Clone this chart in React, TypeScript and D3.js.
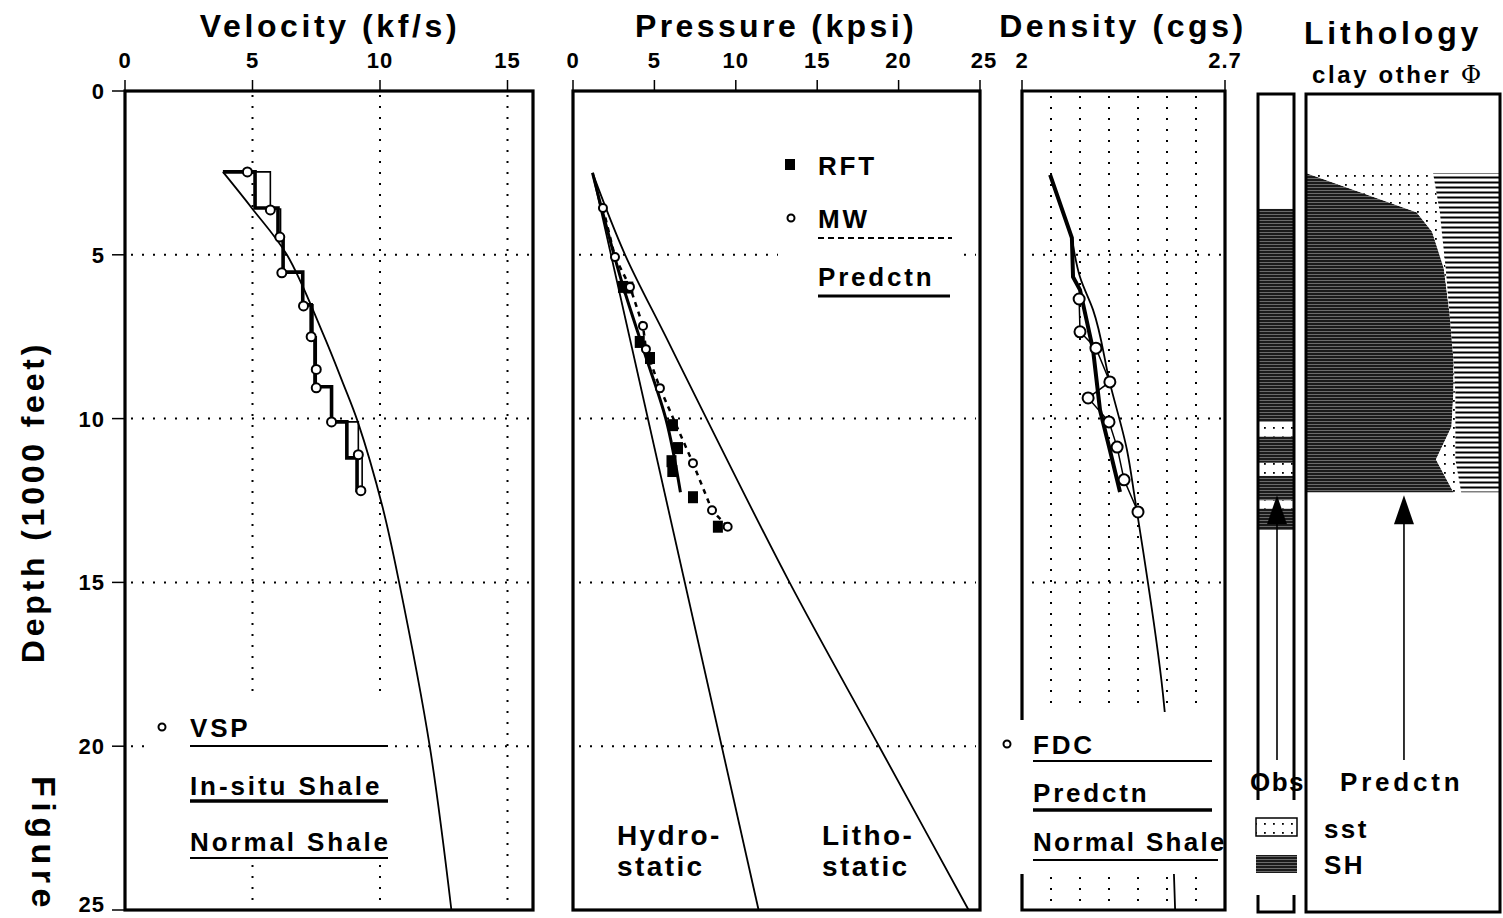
import React, { useEffect, useRef } from "react";
import * as d3 from "d3";

// axes
const depthTicks = [0, 5, 10, 15, 20, 25];
const velTicks = [0, 5, 10, 15];
const presTicks = [0, 5, 10, 15, 20, 25];
const denTicks = [2, 2.7];
const denGrid = [2.1, 2.2, 2.3, 2.4, 2.5, 2.6];

// velocity (kf/s) vs depth (1000 ft)
const normVelDepth = [2.47, 3.6, 5, 7.4, 8.9, 10.1, 12.7, 15, 20, 25];
const normVel = [3.84, 5.0, 6.35, 7.76, 8.54, 9.13, 10.1, 10.75, 11.95, 12.8];
const insituTop = [2.47, 3.57, 4.45, 5.53, 6.53, 7.6, 9.03, 10.1, 11.2];
const insituBase = [3.57, 4.45, 5.53, 6.53, 7.6, 9.03, 10.1, 11.2, 12.25];
const insituVel = [5.1, 6.0, 6.2, 6.97, 7.3, 7.45, 8.1, 8.7, 9.1];
const vspTop = [2.47, 3.6, 4.45, 5.53, 6.53, 7.5, 9.03, 10.1, 11.2];
const vspBase = [3.6, 4.45, 5.53, 6.53, 7.5, 9.03, 10.1, 11.2, 12.25];
const vspVel = [5.7, 6.1, 6.2, 6.97, 7.37, 7.5, 8.1, 9.15, 9.3];
const vspPtDepth = [2.47, 3.63, 4.46, 5.55, 6.56, 7.5, 8.5, 9.06, 10.1, 11.1, 12.2];
const vspPtVel = [4.8, 5.7, 6.07, 6.15, 7.0, 7.3, 7.5, 7.5, 8.1, 9.15, 9.25];

// pressure (kpsi)
const hydroDepth = [2.5, 25];
const hydroP = [1.2, 11.4];
const lithoDepth = [2.5, 5, 7.5, 10, 15, 20, 25];
const lithoP = [1.2, 3.2, 5.7, 8.2, 13.3, 18.8, 24.3];
const predPDepth = [2.5, 6, 8, 10, 12.25];
const predP = [1.2, 3.1, 4.4, 5.7, 6.6];
const mwDepth = [3.57, 5.07, 5.98, 7.17, 7.88, 9.07, 11.36, 12.8, 13.3];
const mwP = [1.84, 2.58, 3.5, 4.3, 4.48, 5.34, 7.37, 8.54, 9.5];
const rftDepth = [5.98, 6.0, 7.66, 8.15, 10.2, 10.9, 11.3, 11.6, 12.4, 13.3];
const rftP = [3.07, 3.4, 4.1, 4.73, 6.14, 6.45, 6.05, 6.1, 7.37, 8.9];

// density (g/cc)
const predDenDepth = [2.56, 4.48, 5.68, 6.07, 7.9, 9.74, 10.96, 12.24];
const predDen = [2.097, 2.172, 2.176, 2.2, 2.245, 2.269, 2.303, 2.338];
const normDenDepth = [4.48, 5.68, 6.68, 8.91, 10.96, 12.48, 14.0, 18.4, 25];
const normDen = [2.172, 2.2, 2.245, 2.303, 2.362, 2.39, 2.417, 2.486, 2.528];
const fdcDepth = [6.35, 7.35, 7.85, 8.88, 9.37, 10.1, 10.87, 11.87, 12.85];
const fdcDen = [2.197, 2.2, 2.255, 2.303, 2.228, 2.3, 2.328, 2.352, 2.4];

// lithology
const obsTop = [3.6, 10.1, 10.55, 11.35, 11.75, 12.5, 12.75];
const obsBase = [10.1, 10.55, 11.35, 11.75, 12.5, 12.75, 13.4];
const obsType = ["SH", "sst", "SH", "sst", "SH", "sst", "SH"];
const lithDepth = [2.5, 3.7, 4.3, 5.4, 6.8, 8.2, 9.2, 10.25, 11.25, 12.25];
const clayFrac = [0, 0.57, 0.65, 0.71, 0.74, 0.76, 0.76, 0.75, 0.67, 0.76];
const otherFrac = [0.655, 0.12, 0.05, 0.01, 0, 0, 0.01, 0.02, 0.1, 0.04];

const font = "'Liberation Sans', Arial, Helvetica, sans-serif";

export default function App() {
  const svgRef = useRef<SVGSVGElement>(null);

  useEffect(() => {
    const svg = d3.select(svgRef.current);
    svg.selectAll("*").remove();

    const y = d3.scaleLinear().domain([0, 25]).range([91, 910]);
    const xVel = d3.scaleLinear().domain([0, 16]).range([125, 533]);
    const xPres = d3.scaleLinear().domain([0, 25]).range([573, 980]);
    const xDen = d3.scaleLinear().domain([2, 2.7]).range([1022, 1225]);
    const xLith = d3.scaleLinear().domain([0, 1]).range([1306, 1500]);

    const defs = svg.append("defs");
    const sh = defs.append("pattern").attr("id", "shale").attr("patternUnits", "userSpaceOnUse").attr("width", 8).attr("height", 3);
    sh.append("rect").attr("width", 8).attr("height", 3).attr("fill", "#1a1a1a");
    sh.append("rect").attr("y", 1).attr("width", 8).attr("height", 0.7).attr("fill", "#8c8c8c");
    const ss = defs.append("pattern").attr("id", "sst").attr("patternUnits", "userSpaceOnUse").attr("width", 9).attr("height", 9);
    ss.append("rect").attr("width", 9).attr("height", 9).attr("fill", "#fff");
    ss.append("rect").attr("x", 4).attr("y", 4).attr("width", 1.8).attr("height", 1.8).attr("fill", "#000");
    const ph = defs.append("pattern").attr("id", "phi").attr("patternUnits", "userSpaceOnUse").attr("width", 6).attr("height", 5);
    ph.append("rect").attr("width", 6).attr("height", 5).attr("fill", "#fff");
    ph.append("rect").attr("y", 1.5).attr("width", 6).attr("height", 2).attr("fill", "#000");

    const text = (x: number, yy: number, s: string, size: number, anchor = "start", ls = 1.5) =>
      svg.append("text").attr("x", x).attr("y", yy).attr("font-family", font).attr("font-weight", "bold")
        .attr("font-size", size).attr("letter-spacing", ls).attr("text-anchor", anchor).attr("fill", "#000").text(s);

    const dots = (x1: number, y1: number, x2: number, y2: number) =>
      svg.append("line").attr("x1", x1).attr("y1", y1).attr("x2", x2).attr("y2", y2)
        .attr("stroke", "#000").attr("stroke-width", 2).attr("stroke-dasharray", "2,9");

    const seg = (x1: number, y1: number, x2: number, y2: number, w: number) =>
      svg.append("line").attr("x1", x1).attr("y1", y1).attr("x2", x2).attr("y2", y2)
        .attr("stroke", "#000").attr("stroke-width", w);

    const line = (sx: d3.ScaleLinear<number, number>) =>
      d3.line<[number, number]>().x((d) => sx(d[0])).y((d) => y(d[1]));
    const zip = (vals: number[], deps: number[]) => vals.map((v, i) => [v, deps[i]] as [number, number]);
    const steps = (tops: number[], bases: number[], vals: number[]) => {
      const pts: [number, number][] = [[normVel[0], normVelDepth[0]]];
      tops.forEach((t, i) => { pts.push([vals[i], t]); pts.push([vals[i], bases[i]]); });
      return pts;
    };
    const path = (d: string | null, w: number, dash?: string) => {
      const p = svg.append("path").attr("d", d).attr("fill", "none").attr("stroke", "#000").attr("stroke-width", w);
      if (dash) p.attr("stroke-dasharray", dash);
      return p;
    };
    const circle = (cx: number, cy: number, r: number) =>
      svg.append("circle").attr("cx", cx).attr("cy", cy).attr("r", r).attr("fill", "#fff").attr("stroke", "#000").attr("stroke-width", 2);

    // ---------- titles ----------
    text(330, 37, "Velocity (kf/s)", 32, "middle", 3.6);
    text(776, 37, "Pressure (kpsi)", 32, "middle", 3.4);
    text(1123, 37, "Density (cgs)", 32, "middle", 3.6);
    text(1393, 44, "Lithology", 32, "middle", 3.8);
    const sub = text(1398, 83, "clay other ", 24, "middle", 2.6);
    sub.append("tspan").attr("font-family", "'DejaVu Serif', serif").attr("font-weight", "normal").attr("font-size", 25).text("Φ");

    // depth axis
    svg.append("text").attr("transform", "translate(44,502) rotate(-90)").attr("text-anchor", "middle")
      .attr("font-family", font).attr("font-weight", "bold").attr("font-size", 32).attr("letter-spacing", 3.8)
      .text("Depth (1000 feet)");
    svg.append("text").attr("transform", "translate(32,776) rotate(90)").attr("font-family", font)
      .attr("font-weight", "bold").attr("font-size", 34).attr("letter-spacing", 5.5).text("Figure");
    depthTicks.forEach((d) => {
      seg(112, y(d), 125, y(d), 1.5);
      text(105, Math.min(y(d) + 8, 912), String(d), 22, "end", 1);
    });

    // ---------- velocity panel ----------
    velTicks.forEach((v) => {
      seg(xVel(v), 80, xVel(v), 91, 1.5);
      text(xVel(v), 68, String(v), 22, "middle", 1);
      if (v > 0) dots(xVel(v), 95, xVel(v), 908);
    });
    [5, 10, 15, 20].forEach((d) => dots(xVel(0) + 6, y(d), xVel(16) - 2, y(d)));
    svg.append("rect").attr("x", 152).attr("y", 700).attr("width", 240).attr("height", 162).attr("fill", "#fff");
    path(line(xVel).curve(d3.curveCatmullRom.alpha(0.5))(zip(normVel, normVelDepth)), 1.8);
    path(line(xVel)(steps(vspTop, vspBase, vspVel)), 1.6);
    path(line(xVel)(steps(insituTop, insituBase, insituVel)), 3.6);
    vspPtVel.forEach((v, i) => circle(xVel(v), y(vspPtDepth[i]), 4.5));
    circle(162, 727, 3.5);
    text(190, 737, "VSP", 26, "start", 2.8);
    seg(190, 746, 388, 746, 1.8);
    text(190, 795, "In-situ Shale", 26, "start", 2.9);
    seg(190, 801, 388, 801, 3.5);
    text(190, 851, "Normal Shale", 26, "start", 2.9);
    seg(190, 858, 388, 858, 1.8);
    svg.append("rect").attr("x", xVel(0)).attr("y", y(0)).attr("width", xVel(16) - xVel(0)).attr("height", y(25) - y(0))
      .attr("fill", "none").attr("stroke", "#000").attr("stroke-width", 3.2);

    // ---------- pressure panel ----------
    presTicks.forEach((p) => {
      seg(xPres(p), 80, xPres(p), 91, 1.5);
      text(xPres(p) + (p === 25 ? 4 : 0), 68, String(p), 22, "middle", 1);
    });
    [5, 10, 15, 20].forEach((d) => dots(xPres(0) + 6, y(d), xPres(25) - 4, y(d)));
    svg.append("rect").attr("x", 778).attr("y", 140).attr("width", 184).attr("height", 165).attr("fill", "#fff");
    path(line(xPres)(zip(hydroP, hydroDepth)), 1.8);
    path(line(xPres).curve(d3.curveMonotoneY)(zip(lithoP, lithoDepth)), 1.8);
    path(line(xPres).curve(d3.curveMonotoneY)(zip(predP, predPDepth)), 3);
    path(line(xPres)(zip(mwP, mwDepth)), 2.5, "5,5");
    rftP.forEach((p, i) =>
      svg.append("rect").attr("x", xPres(p) - 5).attr("y", y(rftDepth[i]) - 6).attr("width", 10).attr("height", 12).attr("fill", "#000"));
    mwP.forEach((p, i) => circle(xPres(p), y(mwDepth[i]), 4));
    svg.append("rect").attr("x", 785).attr("y", 159).attr("width", 10).attr("height", 11).attr("fill", "#000");
    text(818, 175, "RFT", 26, "start", 2.8);
    circle(791, 218, 3.5);
    text(818, 228, "MW", 26, "start", 2.8);
    seg(818, 238, 952, 238, 2).attr("stroke-dasharray", "6,4");
    text(818, 286, "Predctn", 26, "start", 2.8);
    seg(818, 296, 950, 296, 3);
    text(617, 845, "Hydro-", 28, "start", 2.4);
    text(617, 876, "static", 28, "start", 2.4);
    text(822, 845, "Litho-", 28, "start", 2.4);
    text(822, 876, "static", 28, "start", 2.4);
    svg.append("rect").attr("x", xPres(0)).attr("y", y(0)).attr("width", xPres(25) - xPres(0)).attr("height", y(25) - y(0))
      .attr("fill", "none").attr("stroke", "#000").attr("stroke-width", 3.2);

    // ---------- density panel ----------
    denTicks.forEach((v) => {
      seg(xDen(v), 80, xDen(v), 91, 1.5);
      text(xDen(v), 68, String(v), 22, "middle", 1);
    });
    denGrid.forEach((v) => dots(xDen(v), 96, xDen(v), 908));
    [5, 10, 15, 20].forEach((d) => dots(xDen(2) + 10, y(d), xDen(2.7) - 4, y(d)));
    path(line(xDen).curve(d3.curveMonotoneY)(zip(normDen, normDenDepth)), 1.8);
    path(line(xDen)(zip(fdcDen, fdcDepth)), 1.5);
    path(line(xDen)(zip(predDen, predDenDepth)), 4);
    fdcDen.forEach((v, i) => circle(xDen(v), y(fdcDepth[i]), 5.5));
    svg.append("rect").attr("x", 995).attr("y", 712).attr("width", 228).attr("height", 162).attr("fill", "#fff");
    circle(1007, 744, 3.5);
    text(1033, 754, "FDC", 26, "start", 2.8);
    seg(1033, 761, 1212, 761, 1.8);
    text(1033, 802, "Predctn", 26, "start", 2.8);
    seg(1033, 810, 1212, 810, 3.5);
    text(1033, 851, "Normal Shale", 26, "start", 2.3);
    seg(1033, 860, 1218, 860, 1.8);
    svg.append("path")
      .attr("d", `M${xDen(2)},720 V${y(0)} H${xDen(2.7)} V${y(25)} H${xDen(2)} V874`)
      .attr("fill", "none").attr("stroke", "#000").attr("stroke-width", 3.2);

    // ---------- lithology ----------
    const obsL = 1259, obsR = 1293;
    obsType.forEach((t, i) =>
      svg.append("rect").attr("x", obsL).attr("y", y(obsTop[i])).attr("width", obsR - obsL)
        .attr("height", y(obsBase[i]) - y(obsTop[i])).attr("fill", t === "SH" ? "url(#shale)" : "url(#sst)"));
    const stack = lithDepth.map((d, i) => ({ d, c: clayFrac[i], o: clayFrac[i] + otherFrac[i] }));
    const area = d3.area<{ d: number; c: number; o: number }>().y((s) => y(s.d));
    svg.append("path").attr("d", area.x0(() => xLith(0)).x1((s) => xLith(s.c))(stack)).attr("fill", "url(#shale)");
    svg.append("path").attr("d", area.x0((s) => xLith(s.c)).x1((s) => xLith(s.o))(stack)).attr("fill", "url(#sst)");
    svg.append("path").attr("d", area.x0((s) => xLith(s.o)).x1(() => xLith(1))(stack)).attr("fill", "url(#phi)");

    const bottomLith = lithDepth[lithDepth.length - 1];
    const arrow = (cx: number) => {
      const tip = y(bottomLith) + 3;
      svg.append("path").attr("d", `M${cx},${tip} L${cx - 10},${tip + 29} L${cx + 10},${tip + 29} Z`).attr("fill", "#000");
      seg(cx, tip + 28, cx, 760, 1.6);
    };
    arrow((obsL + obsR) / 2 + 1);
    arrow(xLith(0.505));

    svg.append("path").attr("d", `M${obsL - 1},800 V94 H${obsR + 1} V800`).attr("fill", "none").attr("stroke", "#000").attr("stroke-width", 3);
    svg.append("path").attr("d", `M${obsL - 1},895 V912 H${obsR + 1} V895`).attr("fill", "none").attr("stroke", "#000").attr("stroke-width", 3);
    svg.append("rect").attr("x", xLith(0)).attr("y", 94).attr("width", xLith(1) - xLith(0)).attr("height", 818)
      .attr("fill", "none").attr("stroke", "#000").attr("stroke-width", 3);

    text(1250, 791, "Obs", 26, "start", 1.5);
    text(1340, 791, "Predctn", 26, "start", 3.8);
    svg.append("rect").attr("x", 1256).attr("y", 818).attr("width", 41).attr("height", 18).attr("fill", "url(#sst)").attr("stroke", "#000").attr("stroke-width", 1.5);
    svg.append("rect").attr("x", 1256).attr("y", 855).attr("width", 41).attr("height", 18).attr("fill", "url(#shale)");
    text(1324, 838, "sst", 26, "start", 2.4);
    text(1324, 874, "SH", 26, "start", 2.4);
  }, []);

  return (
    <svg ref={svgRef} width={1503} height={918}
      style={{ position: "absolute", left: 0, top: 0, background: "#fff" }} />
  );
}
